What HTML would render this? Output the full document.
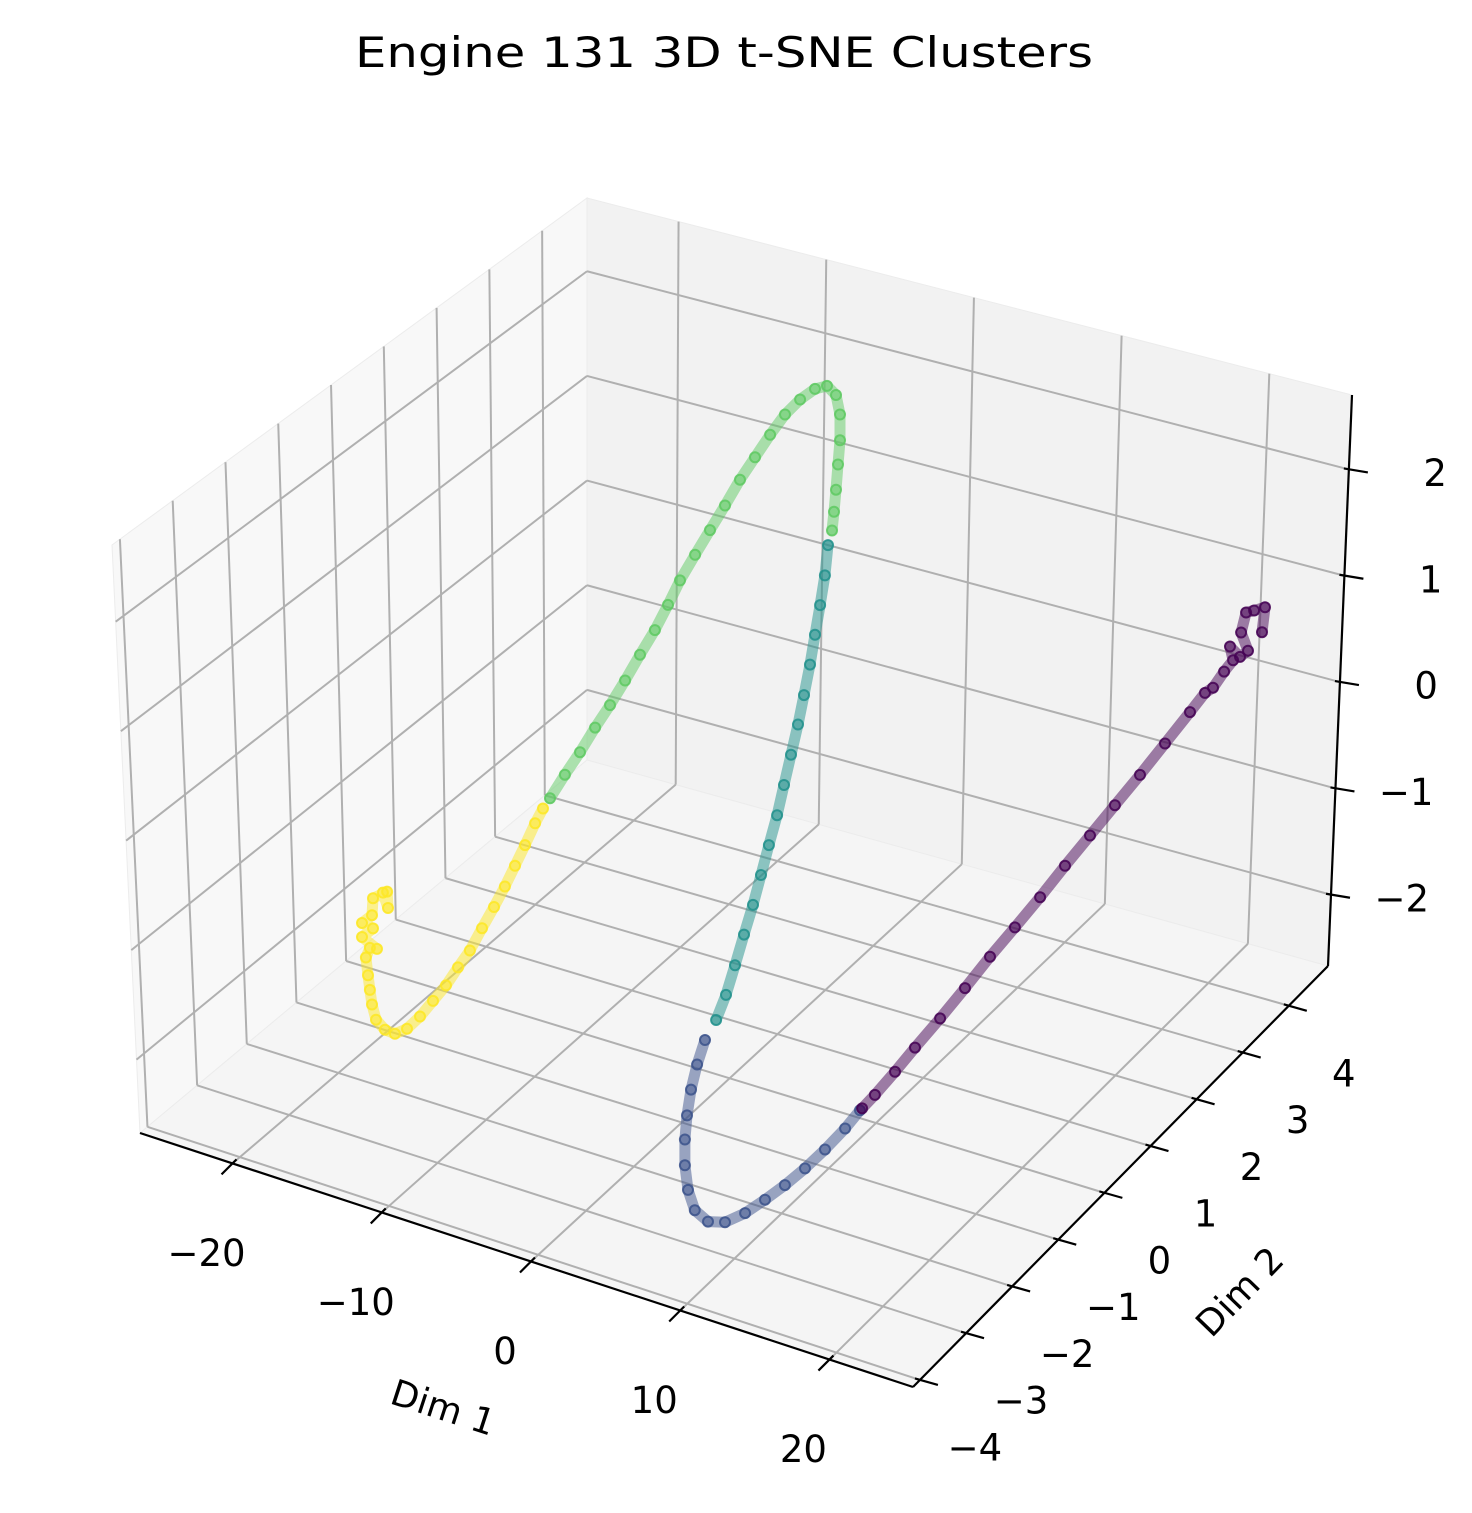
<!DOCTYPE html>
<html><head><meta charset="utf-8"><title>Engine 131 3D t-SNE Clusters</title>
<style>
html,body{margin:0;padding:0;background:#fff;}
svg{display:block;font-family:"DejaVu Sans","Liberation Sans",sans-serif;}
</style></head>
<body>
<svg id="chart" width="1472" height="1513" viewBox="0 0 1472 1513" xmlns="http://www.w3.org/2000/svg">
<rect x="0" y="0" width="1472" height="1513" fill="#ffffff"/>
<text x="724" y="67" font-size="42" text-anchor="middle" textLength="738" lengthAdjust="spacingAndGlyphs" fill="#000">Engine 131 3D t-SNE Clusters</text>
<g id="panes"></g>
<g id="grid"></g>
<g id="axes"></g>
<g id="series"></g>
<text x="443" y="1420" font-size="36" text-anchor="middle" transform="rotate(18 443 1408)">Dim 1</text>
<text x="1240" y="1304" font-size="36" text-anchor="middle" transform="rotate(-46 1240 1292)">Dim 2</text>
</svg>
<script>
// ---- data (per cluster) ----
const clusterNames = ["cluster-4","cluster-3","cluster-2","cluster-1","cluster-0"];
const clusterColors = ["#fde725","#5ec962","#21918c","#3b528b","#440154"];
const yellowDim1 = [-17.31,-16.97,-17.03,-17.98,-18.05,-18.73,-17.98,-18.73,-17.71,-18.19,-18.46,-18.32,-18.19,-18.05,-17.78,-17.17,-16.50,-15.68,-14.80,-13.92,-13.04,-12.23,-11.42,-10.60,-9.79,-9.05,-8.37,-7.69,-7.01,-6.47];
const yellowDim2 = [-2,-2,-2,-2,-2,-2,-2,-2,-2,-2,-2,-2,-2,-2,-2,-2,-2,-2,-2,-2,-2,-2,-2,-2,-2,-2,-2,-2,-2,-2];
const yellowDim3 = [-1.01,-1.14,-0.99,-1.09,-1.25,-1.35,-1.37,-1.48,-1.55,-1.56,-1.66,-1.82,-1.95,-2.08,-2.21,-2.28,-2.29,-2.21,-2.06,-1.88,-1.70,-1.50,-1.31,-1.07,-0.84,-0.62,-0.40,-0.18,0.05,0.21];
const greenDim1 = [-9.43,-8.42,-7.40,-6.38,-5.37,-4.35,-3.34,-2.33,-1.44,-0.63,0.39,1.40,2.42,3.43,4.45,5.47,6.48,7.50,8.51,9.32,9.93,10.20,10.20,10.07,9.93,9.80,9.66];
const greenDim2 = [-1,-1,-1,-1,-1,-1,-1,-1,-1,-1,-1,-1,-1,-1,-1,-1,-1,-1,-1,-1,-1,-1,-1,-1,-1,-1,-1];
const greenDim3 = [-0.22,0.04,0.29,0.56,0.81,1.08,1.36,1.63,1.90,2.16,2.44,2.71,2.98,3.26,3.51,3.76,3.99,4.17,4.31,4.37,4.31,4.14,3.90,3.67,3.43,3.22,3.04];
const tealDim1 = [5.96,5.75,5.42,5.08,4.74,4.33,3.93,3.45,2.98,2.51,1.96,1.42,0.88,0.27,-0.34,-0.95,-1.62];
const tealDim2 = [0,0,0,0,0,0,0,0,0,0,0,0,0,0,0,0,0];
const tealDim3 = [2.35,2.06,1.77,1.48,1.19,0.89,0.60,0.30,0.00,-0.30,-0.60,-0.90,-1.20,-1.50,-1.81,-2.11,-2.37];
const blueDim1 = [-5.80,-6.34,-6.75,-7.02,-7.16,-7.16,-6.95,-6.49,-5.60,-4.45,-3.09,-1.74,-0.39,0.97,2.32,3.68,4.69];
const blueDim2 = [1,1,1,1,1,1,1,1,1,1,1,1,1,1,1,1,1];
const blueDim3 = [-3.13,-3.38,-3.63,-3.88,-4.11,-4.35,-4.57,-4.74,-4.81,-4.77,-4.63,-4.45,-4.26,-4.05,-3.82,-3.57,-3.36];
const purpleDim1 = [1.40,2.27,3.63,4.98,6.68,8.37,10.06,11.75,13.45,15.14,16.83,18.52,20.22,21.91,23.60,24.62,25.16,25.91,26.52,26.31,26.99,27.53,27.06,27.40,27.94,28.68,28.48];
const purpleDim2 = [2,2,2,2,2,2,2,2,2,2,2,2,2,2,2,2,2,2,2,2,2,2,2,2,2,2,2];
const purpleDim3 = [-3.88,-3.72,-3.45,-3.17,-2.83,-2.48,-2.12,-1.78,-1.43,-1.07,-0.72,-0.37,-0.02,0.34,0.70,0.92,0.99,1.17,1.30,1.42,1.35,1.43,1.58,1.78,1.82,1.88,1.64];
const xTicks = [-20,-10,0,10,20];
const yTicks = [-4,-3,-2,-1,0,1,2,3,4];
const zTicks = [-2,-1,0,1,2];
const xTickLabels = ["\u221220","\u221210","0","10","20"];
const yTickLabels = ["\u22124","\u22123","\u22122","\u22121","0","1","2","3","4"];
const zTickLabels = ["\u22122","\u22121","0","1","2"];

// ---- geometry ----
const NS = "http://www.w3.org/2000/svg";
const XR = [-26.2, 25.6], YR = [-4.15, 4.85], ZR = [-2.67, 2.70];
const C = {
  "000":[140,1133],"100":[913,1387],"010":[587,760],"110":[1328,966],
  "001":[112,545],"101":[905,790],"011":[587,198],"111":[1352,395]
};
function lerp(a,b,t){return [a[0]+(b[0]-a[0])*t, a[1]+(b[1]-a[1])*t];}
function T(u,v,w){
  const a=lerp(C["000"],C["100"],u), b=lerp(C["010"],C["110"],u);
  const c=lerp(C["001"],C["101"],u), d=lerp(C["011"],C["111"],u);
  return lerp(lerp(a,b,v), lerp(c,d,v), w);
}
function ux(x){return (x-XR[0])/(XR[1]-XR[0]);}
function vy(y){return (y-YR[0])/(YR[1]-YR[0]);}
function wz(z){return (z-ZR[0])/(ZR[1]-ZR[0]);}
function project(x,y,z){
  return [740 + 14.77*x + 50.7*y, 772 + 4.35*x - 43.6*y - 107.6*z];
}
function mk(tag, attrs, parent){
  const el=document.createElementNS(NS,tag);
  for(const k in attrs) el.setAttribute(k, attrs[k]);
  parent.appendChild(el); return el;
}
function pts(arr){return arr.map(p=>p[0].toFixed(1)+","+p[1].toFixed(1)).join(" ");}

const panes=document.getElementById("panes");
let el;
el=mk("polygon",{points:pts([C["000"],C["010"],C["011"],C["001"]]),fill:"#f8f8f8",stroke:"#ececec","stroke-width":1},panes);


el=mk("polygon",{points:pts([C["010"],C["110"],C["111"],C["011"]]),fill:"#f2f2f2",stroke:"#ececec","stroke-width":1},panes);


el=mk("polygon",{points:pts([C["000"],C["100"],C["110"],C["010"]]),fill:"#f5f5f5",stroke:"#ececec","stroke-width":1},panes);



const grid=document.getElementById("grid");
function gline(p,q,name){
  const l=mk("line",{x1:p[0],y1:p[1],x2:q[0],y2:q[1],stroke:"#b0b0b0","stroke-width":2},grid);
  
  
}
xTicks.forEach(x=>{const u=ux(x); gline(T(u,1,0),T(u,1,1),"grid-x-back"); gline(T(u,0,0),T(u,1,0),"grid-x-floor");});
yTicks.forEach(y=>{const v=vy(y); gline(T(0,v,0),T(0,v,1),"grid-y-left"); gline(T(0,v,0),T(1,v,0),"grid-y-floor");});
zTicks.forEach(z=>{const w=wz(z); gline(T(0,1,w),T(1,1,w),"grid-z-back"); gline(T(0,0,w),T(0,1,w),"grid-z-left");});

const axes=document.getElementById("axes");
function aline(p,q,name,w){
  const l=mk("line",{x1:p[0],y1:p[1],x2:q[0],y2:q[1],stroke:"#000","stroke-width":w||2.2},axes);
  
  
}
function label(x,y,txt,name,anchor){
  const t=mk("text",{x:x,y:y,"font-size":37,"text-anchor":anchor||"middle","dominant-baseline":"middle",fill:"#000"},axes);
  t.textContent=txt;
  
  
}
aline(C["000"],C["100"],"x-axis-line");
aline(C["100"],C["110"],"y-axis-line");
aline(C["110"],C["111"],"z-axis-line");
xTicks.forEach((x,i)=>{
  const p=T(ux(x),0,0);
  aline([p[0]+4,p[1]-4],[p[0]-11,p[1]+11],"x-tick");
  label(p[0]-26,p[1]+92,xTickLabels[i],"x-tick-label");
});
yTicks.forEach((y,i)=>{
  const p=T(1,vy(y),0);
  aline([p[0]-5,p[1]-1.5],[p[0]+18,p[1]+5],"y-tick");
  label(p[0]+55,p[1]+70,yTickLabels[i],"y-tick-label");
});
zTicks.forEach((z,i)=>{
  const p=T(1,1,wz(z));
  aline([p[0]-5,p[1]-1],[p[0]+19,p[1]+3],"z-tick");
  label(p[0]+98,p[1]+6,zTickLabels[i],"z-tick-label","end");
});

const series=document.getElementById("series");
const allX=[yellowDim1,greenDim1,tealDim1,blueDim1,purpleDim1];
const allY=[yellowDim2,greenDim2,tealDim2,blueDim2,purpleDim2];
const allZ=[yellowDim3,greenDim3,tealDim3,blueDim3,purpleDim3];
allX.forEach((xs,ci)=>{
  const g=mk("g",{},series);
  
  
  const P=xs.map((x,i)=>project(x,allY[ci][i],allZ[ci][i]));
  const pl=mk("polyline",{points:pts(P),fill:"none",stroke:clusterColors[ci],"stroke-width":11,"stroke-linejoin":"round","stroke-linecap":"round",opacity:0.5},g);
  
  
  P.forEach(p=>{
    const c=mk("circle",{cx:p[0].toFixed(1),cy:p[1].toFixed(1),r:5,fill:clusterColors[ci],"fill-opacity":0.45,stroke:clusterColors[ci],"stroke-opacity":0.85,"stroke-width":2},g);
    
    
  });
});
</script>
</body></html>
